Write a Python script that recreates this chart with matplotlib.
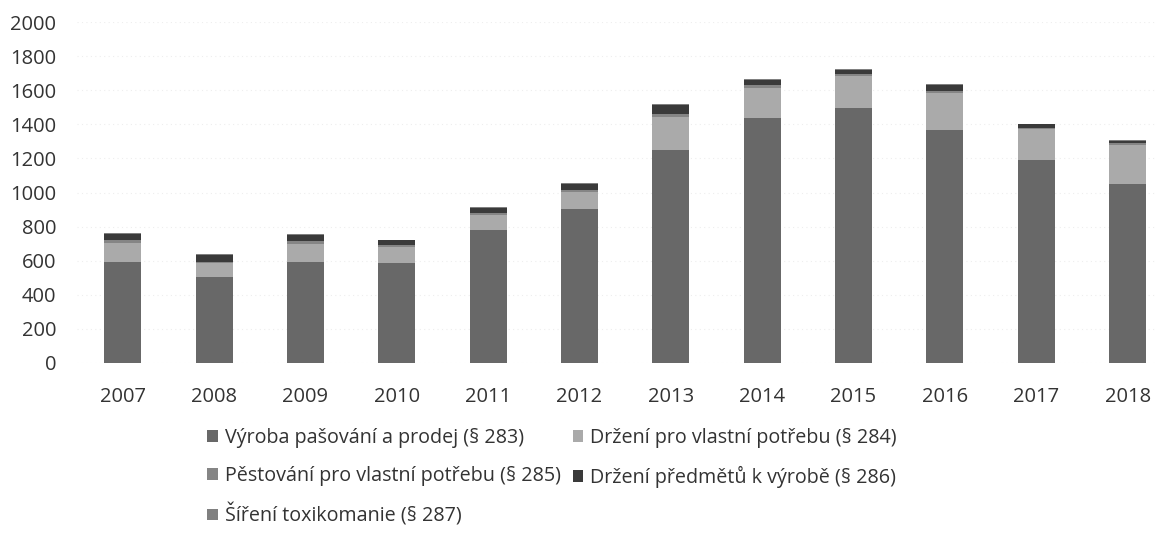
import matplotlib
matplotlib.use("Agg")
import matplotlib.pyplot as plt
from matplotlib.patches import Patch
import numpy as np

years = ["2007", "2008", "2009", "2010", "2011", "2012", "2013", "2014", "2015", "2016", "2017", "2018"]
s283 = [595, 505, 590, 585, 780, 905, 1250, 1435, 1495, 1365, 1190, 1050]
s284 = [110, 80, 110, 95, 90, 100, 195, 180, 190, 220, 180, 230]
s285 = [15, 10, 15, 10, 10, 12, 15, 15, 10, 10, 8, 8]
s286 = [35, 38, 35, 30, 30, 35, 52, 30, 25, 35, 22, 15]
s287 = [5, 4, 5, 4, 4, 4, 5, 4, 3, 4, 3, 3]
labels = ["Výroba pašování a prodej (§ 283)",
          "Držení pro vlastní potřebu (§ 284)",
          "Pěstování pro vlastní potřebu (§ 285)",
          "Držení předmětů k výrobě (§ 286)",
          "Šíření toxikomanie (§ 287)"]
yticks = [0, 200, 400, 600, 800, 1000, 1200, 1400, 1600, 1800, 2000]

colors = ["#686868", "#aaaaaa", "#858585", "#3a3a3a", "#808080"]

plt.rcParams['font.family'] = ['Open Sans', 'DejaVu Sans']

fig = plt.figure(figsize=(11.55, 5.51), dpi=100)
ax = fig.add_axes([77/1155, 188/551, (1155-77)/1155, 341/551])

x = np.arange(len(years))
series = [s283, s284, s285, s286, s287]
bottom = np.zeros(len(years))
handles = []
for vals, c, lab in zip(series, colors, labels):
    ax.bar(x, vals, width=0.405, bottom=bottom, color=c, edgecolor='none', label=lab, zorder=3)
    bottom += np.array(vals)
    handles.append(Patch(facecolor=c, edgecolor='none', label=lab))

ax.set_ylim(0, 2000)
ax.set_xlim(-0.5, 11.3)
ax.set_yticks(yticks)
ax.set_yticklabels([str(v) for v in yticks], fontsize=14.5, color='#333333')
ax.set_xticks(x)
ax.set_xticklabels(years, fontsize=14.5, color='#333333')
ax.tick_params(axis='both', length=0)
ax.tick_params(axis='x', pad=17)
ax.tick_params(axis='y', pad=15)
ax.grid(axis='y', color='#eeeeee', linewidth=0.8, linestyle=(0, (1, 3)), zorder=0)
for s in ax.spines.values():
    s.set_visible(False)

order = [0, 2, 4, 1, 3]
leg = fig.legend([handles[i] for i in order], [labels[i] for i in order],
                 ncol=2, loc='upper left', bbox_to_anchor=(207/1155, 1 - 428/551),
                 frameon=False, fontsize=14.2, handlelength=0.55, handleheight=0.55,
                 handletextpad=0.35, columnspacing=0.6, labelspacing=0.9,
                 borderaxespad=0, borderpad=0)
for t in leg.get_texts():
    t.set_color('#333333')

fig.savefig("out.png", dpi=100)
